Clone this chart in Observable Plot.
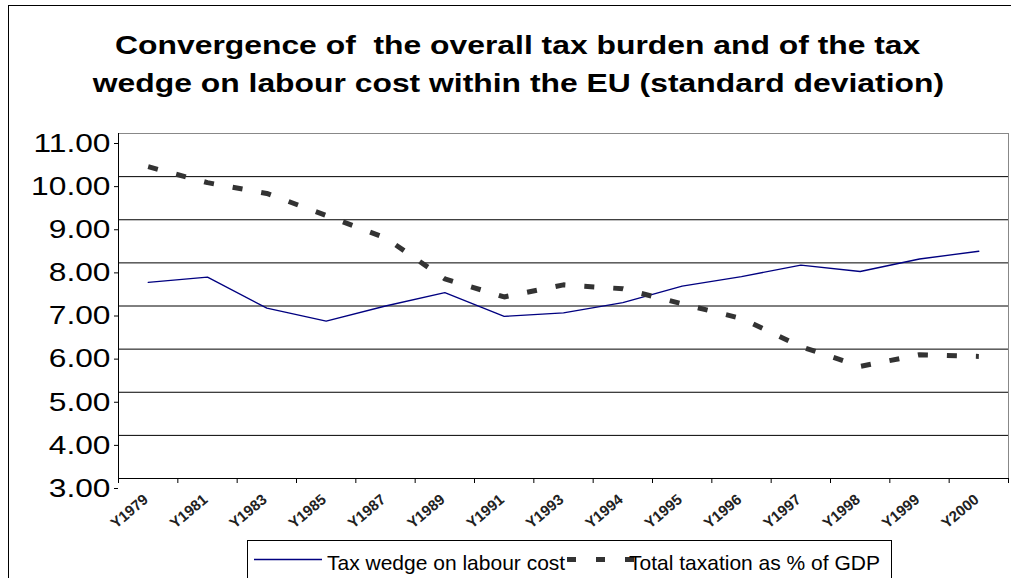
<!DOCTYPE html>
<html>
<head>
<meta charset="utf-8">
<script src="https://cdn.jsdelivr.net/npm/d3@7"></script>
<script src="https://cdn.jsdelivr.net/npm/@observablehq/plot@0.6"></script>
<style>
  html, body { margin: 0; padding: 0; background: #fff; overflow: hidden; }
  body { width: 1011px; height: 578px; position: relative; font-family: Arial, "Liberation Sans", sans-serif; }
  #frame { position: absolute; left: 8px; top: 5px; width: 1100px; height: 700px; border-left: 1px solid #000; border-top: 1px solid #000; }
  #title { position: absolute; left: 0; top: 0; width: 1011px; padding-left: 25px; box-sizing: border-box; padding-top: 26px;
           text-align: center; font-weight: bold; font-size: 26px; line-height: 38px; color: #000; }
  #title span { display: inline-block; white-space: nowrap; transform: scaleX(1.225); transform-origin: center; }
  #chart { position: absolute; left: 0; top: 110px; }
  #legend { position: absolute; left: 247px; top: 540px; width: 643px; height: 60px; border: 1px solid #000; background: #fff; }
  #legend span { position: absolute; top: 11px; font-size: 21px; line-height: 21px; color: #000; white-space: nowrap; }
  #legend svg { position: absolute; left: 0; top: 0; }
</style>
</head>
<body>
<div id="frame"></div>
<div id="title"><span>Convergence of&nbsp; the overall tax burden and of the tax</span><br><span>wedge on labour cost within the EU (standard deviation)</span></div>
<div id="chart"></div>
<div id="legend">
  <svg width="643" height="40">
    <line x1="6" x2="74" y1="18.5" y2="18.5" stroke="#000080" stroke-width="1.5"></line>
    <line x1="319" x2="390" y1="18.5" y2="18.5" stroke="#333" stroke-width="5" stroke-dasharray="9,20"></line>
  </svg>
  <span style="left:79px">Tax wedge on labour cost</span>
  <span style="left:381px">Total taxation as % of GDP</span>
</div>
<script>
const years = ["Y1979","Y1981","Y1983","Y1985","Y1987","Y1989","Y1991","Y1993","Y1994","Y1995","Y1996","Y1997","Y1998","Y1999","Y2000"];
const taxWedge = [7.55, 7.67, 6.95, 6.65, 7.00, 7.31, 6.76, 6.84, 7.08, 7.46, 7.68, 7.95, 7.80, 8.09, 8.27];
const totalTaxation = [10.23, 9.86, 9.61, 9.10, 8.58, 7.63, 7.21, 7.49, 7.40, 7.05, 6.71, 6.06, 5.60, 5.87, 5.83];
const yTicks = [3, 4, 5, 6, 7, 8, 9, 10, 11];

const idx = d3.range(years.length);
const wedgeData = idx.map(i => ({i, v: taxWedge[i]}));
const totalData = idx.map(i => ({i, v: totalTaxation[i]}));
const boundaries = d3.range(years.length + 1).map(k => k - 0.5);

const chart = Plot.plot({
  width: 1011,
  height: 430,
  marginLeft: 118,
  marginRight: 3,
  marginTop: 23,
  marginBottom: 62,
  style: {fontFamily: "Arial, 'Liberation Sans', sans-serif", color: "#000", background: "transparent", overflow: "visible"},
  x: {domain: [-0.5, years.length - 0.5], axis: null, label: null},
  y: {domain: [3, 11], axis: null, label: null},
  marks: [
    Plot.frame({stroke: "#888"}),
    Plot.ruleY(yTicks.slice(1, -1), {stroke: "#000", strokeWidth: 1}),
    Plot.ruleY([3], {stroke: "#000"}),
    Plot.ruleX([-0.5], {stroke: "#000"}),
    Plot.axisY(yTicks, {label: null, tickFormat: d => d.toFixed(2), fontSize: 26, tickSize: 4, tickPadding: 4, dy: 10, stroke: "#000", strokeOpacity: 1}),
    Plot.axisX(boundaries, {label: null, tickFormat: () => "", tickSize: 5, strokeOpacity: 1}),
    Plot.axisX(idx, {label: null, tickFormat: i => years[i], tickSize: 0, tickPadding: 19, dx: -2, tickRotate: -40, fontSize: 15, fontWeight: "bold", fill: "#222"}),
    Plot.line(wedgeData, {x: "i", y: "v", stroke: "#000080", strokeWidth: 1.3}),
    Plot.line(totalData, {x: "i", y: "v", stroke: "#333", strokeWidth: 5, strokeDasharray: "10,19", strokeLinecap: "butt", strokeLinejoin: "miter"})
  ]
});
document.getElementById("chart").appendChild(chart);

// Stretch y tick labels horizontally as in the reference
d3.select(chart).selectAll("g[aria-label='y-axis tick label'] text").each(function() {
  const w = this.getComputedTextLength();
  this.setAttribute("textLength", w * 1.22);
  this.setAttribute("lengthAdjust", "spacingAndGlyphs");
});
</script>
</body>
</html>
